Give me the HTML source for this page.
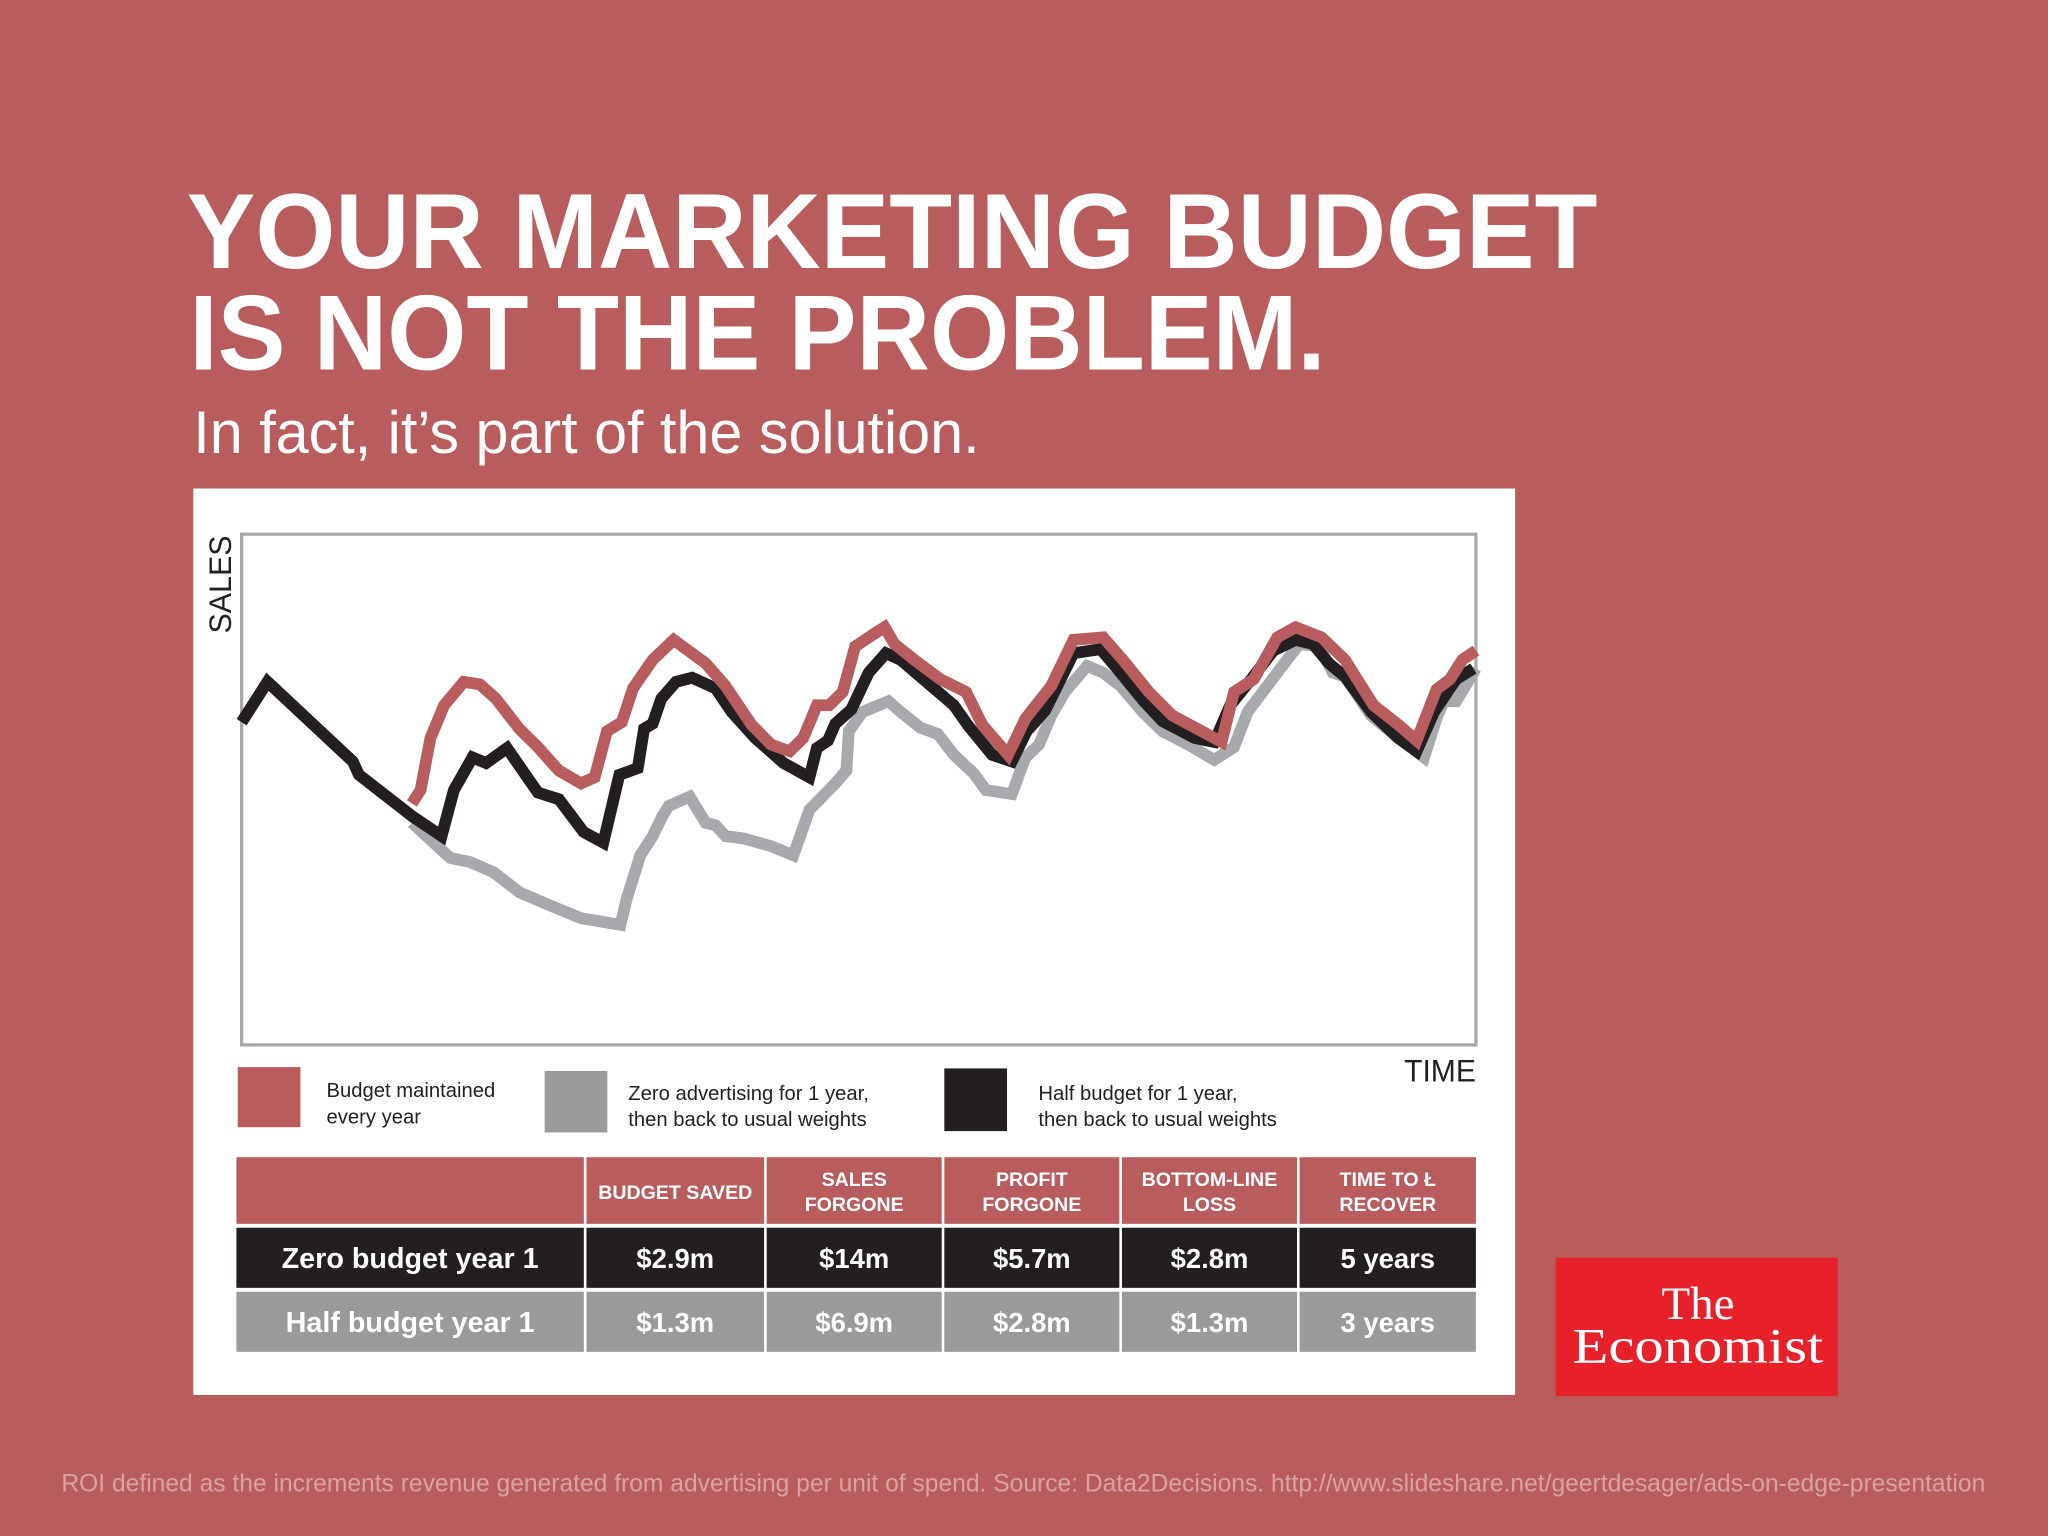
<!DOCTYPE html>
<html><head><meta charset="utf-8"><style>
html,body{margin:0;padding:0;background:#b85c5e;}
svg{display:block;}
text{font-family:"Liberation Sans",sans-serif;}
</style></head><body>
<svg id="chart" width="2048" height="1536" viewBox="0 0 1568 1176" xmlns="http://www.w3.org/2000/svg">
<rect x="0" y="0" width="1568" height="1176" fill="#b85c5e"/>
<text x="143" y="205" font-size="82" font-weight="bold" fill="#fff" textLength="1080" lengthAdjust="spacingAndGlyphs">YOUR MARKETING BUDGET</text>
<text x="145" y="283" font-size="82" font-weight="bold" fill="#fff" textLength="870" lengthAdjust="spacingAndGlyphs">IS NOT THE PROBLEM.</text>
<text x="148" y="347" font-size="46" fill="#fff" textLength="602" lengthAdjust="spacingAndGlyphs">In fact, it’s part of the solution.</text>
<rect x="148" y="374" width="1012" height="694" fill="#fff"/>
<rect x="185" y="409" width="945" height="391" fill="none" stroke="#a7a9ac" stroke-width="2.5"/>
<text transform="translate(177,485) rotate(-90)" font-size="24" fill="#231f20" textLength="75" lengthAdjust="spacingAndGlyphs">SALES</text>
<text x="1075" y="828" font-size="24" fill="#231f20" textLength="55" lengthAdjust="spacingAndGlyphs">TIME</text>
<g id="series"></g>
<rect x="182" y="817" width="48" height="46" fill="#b85c5e"/>
<text font-size="15.5" fill="#231f20"><tspan x="250" y="840">Budget maintained</tspan><tspan x="250" y="860">every year</tspan></text>
<rect x="417" y="820" width="48" height="47" fill="#9a9a9c"/>
<text font-size="15.5" fill="#231f20"><tspan x="481" y="842">Zero advertising for 1 year,</tspan><tspan x="481" y="862">then back to usual weights</tspan></text>
<rect x="723" y="818" width="48" height="48" fill="#231f20"/>
<text font-size="15.5" fill="#231f20"><tspan x="795" y="842">Half budget for 1 year,</tspan><tspan x="795" y="862">then back to usual weights</tspan></text>
<g id="table"></g>
<rect x="1191" y="963" width="216" height="106" fill="#e8202a"/>
<text x="1300" y="1010" font-size="36" fill="#fff" text-anchor="middle" font-family="Liberation Serif, serif" style="font-family:'Liberation Serif',serif">The</text>
<text x="1300" y="1043" font-size="38" fill="#fff" text-anchor="middle" textLength="192" lengthAdjust="spacingAndGlyphs" style="font-family:'Liberation Serif',serif">Economist</text>
<text x="47" y="1142" font-size="19" fill="#dca2a2" textLength="1473" lengthAdjust="spacingAndGlyphs">ROI defined as the increments revenue generated from advertising per unit of spend. Source: Data2Decisions. http://www.slideshare.net/geertdesager/ads-on-edge-presentation</text>
</svg>
<script>
const timeRed = [13.8,14.5,15.3,16.4,18.0,19.3,20.6,22.5,24.0,25.7,27.5,28.6,29.6,30.8,31.7,33.3,35.0,37.6,39.2,41.3,42.9,44.4,45.5,46.6,47.6,48.7,49.7,51.3,52.1,52.9,54.5,56.6,58.7,60.0,62.1,63.5,65.6,67.4,69.8,71.4,73.5,75.4,77.8,79.4,80.4,82.0,83.9,85.4,87.5,89.4,91.7,93.7,95.2,96.8,97.9,98.9,100];
const salesRed = [47.3,49.9,60.1,66.5,71.1,70.6,67.8,61.9,58.3,53.7,51.2,52.4,61.4,63.2,69.8,75.4,79.3,74.7,70.3,62.7,58.8,57.5,60.1,66.5,66.5,69.1,78.0,80.6,81.8,78.5,75.4,71.6,69.1,62.7,56.8,63.9,70.3,79.3,79.8,75.4,69.1,64.5,61.4,59.3,69.1,71.6,79.8,81.8,79.8,75.4,66.5,62.7,59.6,69.6,71.6,75.4,77.2];
const timeGray = [13.8,16.9,18.5,20.4,22.5,24.9,27.5,30.7,31.2,32.3,33.3,34.1,34.6,36.3,37.6,38.4,39.2,40.7,42.9,44.7,46.0,48.1,49.0,49.2,50.3,52.4,53.4,55.0,56.4,57.7,59.3,60.3,62.4,63.5,64.6,65.6,66.7,68.5,69.8,71.2,73.0,74.6,76.7,78.8,80.4,81.5,83.1,84.7,85.7,87.3,88.4,89.4,91.5,93.7,95.8,96.8,97.4,98.4,100];
const salesGray = [43.5,36.6,35.8,33.8,29.9,27.4,24.8,23.5,28.6,37.1,40.9,44.8,46.8,48.6,43.5,43.0,40.9,40.4,38.9,37.1,46.0,51.2,53.7,61.4,65.2,67.3,65.2,62.1,60.9,56.8,53.2,49.9,49.1,56.3,58.8,64.5,69.1,74.2,72.9,70.3,65.2,61.4,58.8,55.8,58.3,65.2,70.3,75.4,78.5,78.0,72.9,72.1,64.5,60.1,56.3,63.9,67.3,67.3,73.7];
const timeBlack = [0,2.1,9.0,9.5,13.8,16.2,17.2,18.7,19.8,21.5,24.0,25.7,27.7,29.3,30.6,32.1,32.6,33.3,34.0,35.2,36.5,38.4,39.7,41.6,43.9,46.0,46.6,47.5,48.1,49.4,50.8,52.2,53.4,57.7,58.9,60.8,62.4,63.6,65.1,67.4,69.6,71.2,73.1,74.6,77.2,78.8,80.1,81.8,83.6,85.4,86.8,88.1,89.4,91.5,93.7,95.2,96.6,98.4,99.8];
const salesBlack = [63.2,71.1,55.5,52.9,44.8,40.9,49.9,56.3,55.2,58.1,49.4,48.1,41.7,39.6,52.9,54.2,61.9,62.9,67.8,71.1,71.9,69.8,65.2,60.1,55.2,52.4,58.1,59.6,62.9,65.7,72.9,76.7,75.4,66.5,62.4,56.8,55.5,61.4,65.5,76.7,77.5,72.9,67.3,63.4,60.1,59.3,66.5,71.6,77.2,79.3,78.5,74.7,72.1,65.2,60.1,57.5,65.2,71.6,73.7];
const tableHeaders = ["","BUDGET SAVED","SALES|FORGONE","PROFIT|FORGONE","BOTTOM-LINE|LOSS","TIME TO Ł|RECOVER"];
const rowZero = ["Zero budget year 1","$2.9m","$14m","$5.7m","$2.8m","5 years"];
const rowHalf = ["Half budget year 1","$1.3m","$6.9m","$2.8m","$1.3m","3 years"];

const NS="http://www.w3.org/2000/svg";
const X0=185,X1=1130,Y0=800,Y1=409;
function xScale(t){return X0+(t/100)*(X1-X0);}
function yScale(v){return Y0-(v/100)*(Y0-Y1);}
const g=document.getElementById('series');
function drawLine(ts,vs,color,name){
  const p=document.createElementNS(NS,'polyline');
  p.setAttribute('points',ts.map((t,i)=>xScale(t).toFixed(1)+','+yScale(vs[i]).toFixed(1)).join(' '));
  p.setAttribute('fill','none');p.setAttribute('stroke',color);p.setAttribute('stroke-width','9');
  p.setAttribute('stroke-linejoin','miter');
  
  
  g.appendChild(p);
}
drawLine(timeGray,salesGray,'#a7a9ac','line-zero-advertising');
drawLine(timeBlack,salesBlack,'#231f20','line-half-budget');
drawLine(timeRed,salesRed,'#b85c5e','line-budget-maintained');

const tb=document.getElementById('table');
const cols=[[181,447],[449,585],[587,721],[723,857],[859,993],[995,1130]];
const rows=[[886,937,'#b85c5e'],[940,986,'#231f20'],[989,1035,'#9a9a9c']];
function rect(x,y,w,h,f){const r=document.createElementNS(NS,'rect');r.setAttribute('x',x);r.setAttribute('y',y);r.setAttribute('width',w);r.setAttribute('height',h);r.setAttribute('fill',f);return r;}
function txt(x,y,s,size){const t=document.createElementNS(NS,'text');t.setAttribute('x',x);t.setAttribute('y',y);t.setAttribute('font-size',size);t.setAttribute('font-weight','bold');t.setAttribute('fill','#fff');t.setAttribute('text-anchor','middle');t.textContent=s;return t;}
const data=[tableHeaders,rowZero,rowHalf];
rows.forEach((r,ri)=>{
  cols.forEach((c,ci)=>{
    const cell=rect(c[0],r[0],c[1]-c[0],r[1]-r[0],r[2]);
    
    
    tb.appendChild(cell);
    const s=data[ri][ci]; if(!s) return;
    const cx=(c[0]+c[1])/2;
    if(ri===0){
      const parts=s.split('|');
      parts.forEach((p,pi)=>{
        const y=parts.length===1?918:(r[0]+22+pi*19);
        const t=txt(cx,y,p,15);
        
        
        tb.appendChild(t);
      });
    } else {
      const t=txt(cx,(r[0]+r[1])/2+8,s,ci===0?22:21);
      
      
      tb.appendChild(t);
    }
  });
});
</script>
</body></html>
